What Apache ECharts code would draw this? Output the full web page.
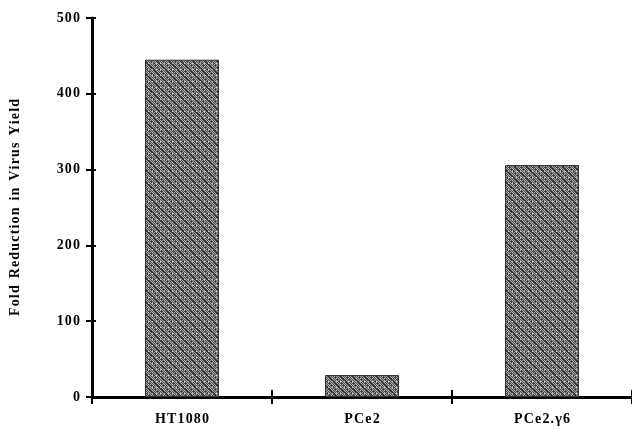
<!DOCTYPE html>
<html>
<head>
<meta charset="utf-8">
<script src="https://cdn.jsdelivr.net/npm/echarts@6/dist/echarts.min.js"></script>
<style>
  html, body { margin: 0; padding: 0; background: #fff; }
  #c { width: 632px; height: 429px; }
</style>
</head>
<body>
<div id="c"></div>
<script>
(() => {
  "use strict";
  const cells = ["HT1080", "PCe2", "PCe2.\u03b36"];
  const reduction = [445, 29, 306];
  const yTicks = [0, 100, 200, 300, 400, 500];
  const yTitle = "Fold Reduction in Virus Yield";

  // letter-spaced text like the print original
  const spread = s => s.split("").join("\u200a");
  const FONT = "Liberation Serif";

  // dithered grey crosshatch texture for the bars
  function hatch() {
    const n = 12, cv = document.createElement("canvas");
    cv.width = n; cv.height = n;
    const g = cv.getContext("2d");
    for (let y = 0; y < n; y++) for (let x = 0; x < n; x++) {
      const d = (x - y + n) % n;
      let c = (x + y) % 2 ? "#4a4a4a" : "#a8a8a8";
      if (d === 0) c = "#262626";
      else if (d === 6 && (x % 2)) c = "#363636";
      else if (x % 4 === 0 && y % 3 === 0) c = "#c8c8c8";
      g.fillStyle = c; g.fillRect(x, y, 1, 1);
    }
    return cv;
  }

  const chart = echarts.init(document.getElementById("c"));
  const lbl = { fontFamily: FONT, fontWeight: "bold", fontSize: 14, color: "#000" };
  // the second axes only draw ticks that cross the main axis lines
  chart.setOption({
    animation: false,
    grid: { left: 90, top: 18, width: 546, height: 379 },
    xAxis: [{
      type: "category", data: cells, boundaryGap: true,
      axisLine: { onZero: false, lineStyle: { color: "#000", width: 3 } },
      axisTick: { show: false },
      axisLabel: Object.assign({ margin: 15, formatter: spread }, lbl),
    }, {
      type: "category", data: cells, boundaryGap: true, position: "bottom", offset: -7,
      axisLine: { show: false }, axisLabel: { show: false },
      axisTick: { show: true, length: 14, lineStyle: { color: "#000", width: 2 } },
    }],
    yAxis: [{
      type: "value", min: 0, max: 500, interval: 100,
      name: spread(yTitle).replace(/\u200a \u200a/g, "  "), nameLocation: "middle", nameGap: 70, nameRotate: 90,
      nameTextStyle: lbl,
      splitLine: { show: false },
      axisLine: { show: true, lineStyle: { color: "#000", width: 3 } },
      axisTick: { show: false },
      axisLabel: Object.assign({ margin: 12, formatter: v => yTicks.includes(v) ? spread(String(v)) : "" }, lbl),
    }, {
      type: "value", min: 0, max: 500, interval: 100, position: "left", offset: -4,
      splitLine: { show: false }, axisLine: { show: false }, axisLabel: { show: false },
      axisTick: { show: true, length: 10, lineStyle: { color: "#000", width: 2 } },
    }],
    series: [{
      type: "bar", data: reduction, barWidth: 74,
      itemStyle: { color: { image: hatch(), repeat: "repeat" }, borderColor: "#333", borderWidth: 1 },
    }],
  });
})();
</script>
</body>
</html>
